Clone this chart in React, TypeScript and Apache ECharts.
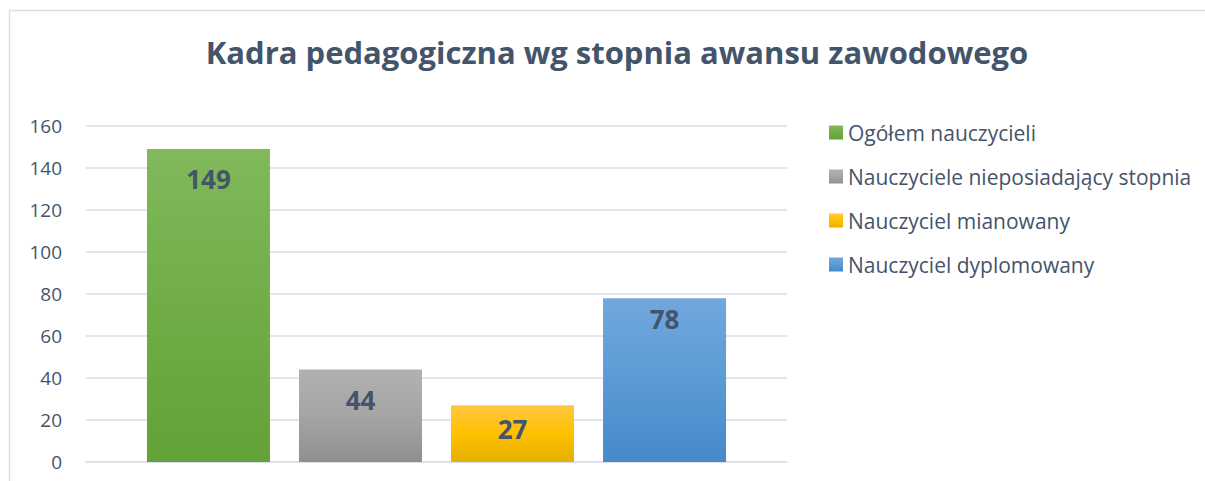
import React, { useEffect, useRef } from "react";
import * as echarts from "echarts";

const title = "Kadra pedagogiczna wg stopnia awansu zawodowego";
const seriesNames = [
  "Ogółem nauczycieli",
  "Nauczyciele nieposiadający stopnia",
  "Nauczyciel mianowany",
  "Nauczyciel dyplomowany",
];
const seriesValues = [149, 44, 27, 78];
const category = [""];
const colorStops: [string, string, string][] = [
  ["#81b95b", "#70ad47", "#62a236"],
  ["#b1b1b1", "#a5a5a5", "#8f8f8f"],
  ["#ffc83f", "#ffc000", "#e5b000"],
  ["#71a7dd", "#5b9bd5", "#4589c9"],
];
const labelDistances = [17, 17, 11, 8];

const textColor = "#44546a";
const font = "Open Sans";

export default function App() {
  const ref = useRef<HTMLDivElement>(null);
  useEffect(() => {
    if (!ref.current) return;
    const chart = echarts.init(ref.current, null, { renderer: "svg" });
    chart.setOption({
      animation: false,
      backgroundColor: "#ffffff",
      title: {
        text: title,
        left: 612,
        textAlign: "center",
        top: 31,
        textStyle: { fontFamily: font, fontSize: 31, fontWeight: "bold", color: textColor },
      },
      graphic: [
        {
          type: "rect",
          shape: { x: 9.5, y: 10.5, width: 1220, height: 500 },
          style: { fill: "none", stroke: "#d9dee8", lineWidth: 1.5 },
          silent: true,
        },
      ],
      legend: {
        orient: "vertical",
        left: 824,
        top: 117,
        itemGap: 23,
        itemWidth: 14,
        itemHeight: 14,
        icon: "rect",
        textStyle: { fontFamily: font, fontSize: 21, color: textColor },
        data: seriesNames,
      },
      grid: { left: 86, right: 418, top: 126, bottom: 19, containLabel: false },
      xAxis: {
        type: "category",
        data: category,
        axisLine: { show: true, lineStyle: { color: "#d9dee8", width: 1.5 } },
        axisTick: { show: false },
        axisLabel: { show: false },
      },
      yAxis: {
        type: "value",
        min: 0,
        max: 160,
        interval: 20,
        axisLine: { show: false },
        axisTick: { show: false },
        splitLine: { lineStyle: { color: "#d9dee8", width: 1.5 } },
        axisLabel: { fontFamily: font, fontSize: 19, color: textColor, margin: 24 },
      },
      series: seriesNames.map((name, i) => ({
        name,
        type: "bar",
        data: [seriesValues[i]],
        barWidth: 123,
        barGap: "23.6%",
        itemStyle: {
          color: new echarts.graphic.LinearGradient(0, 0, 0, 1, [
            { offset: 0, color: colorStops[i][0] },
            { offset: 0.5, color: colorStops[i][1] },
            { offset: 1, color: colorStops[i][2] },
          ]),
        },
        label: {
          show: true,
          position: "insideTop",
          distance: labelDistances[i],
          fontFamily: font,
          fontSize: 26,
          fontWeight: "bold",
          color: textColor,
        },
      })),
    });
    return () => chart.dispose();
  }, []);
  return (
    <div
      ref={ref}
      style={{ position: "absolute", left: 0, top: 0, width: 1205, height: 481 }}
    />
  );
}
